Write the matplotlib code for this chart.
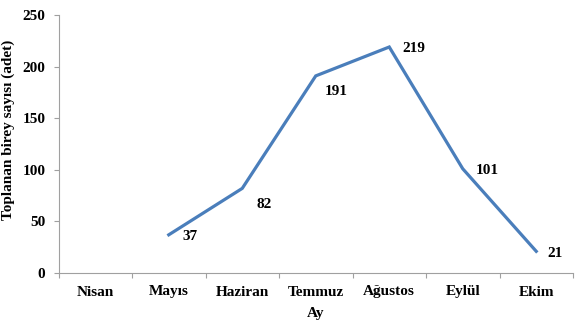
import numpy as np
import matplotlib
matplotlib.use("Agg")
import matplotlib.pyplot as plt

months = ["Nisan", "Mayıs", "Haziran", "Temmuz", "Ağustos", "Eylül", "Ekim"]
counts = [np.nan, 37, 82, 191, 219, 101, 21]
yticks = [0, 50, 100, 150, 200, 250]
# label offsets in pixels (dx, dy)
label_offsets = [(0, 0), (21, -2), (22, -16), (20, -16), (25, -2), (25, -2), (19, -2)]

plt.rcParams['font.family'] = ['Liberation Serif', 'DejaVu Serif']
FS = 11
W, H = 576, 332
fig = plt.figure(figsize=(W / 100, H / 100), dpi=100)
ax = fig.add_axes([58.5 / W, (H - 273) / H, (573 - 58.5) / W, (273 - 15) / H])

x = np.arange(len(months))
ax.plot(x, counts, color='#4A7EBB', lw=2.3, solid_joinstyle='miter')

for xi, v, (dx, dy) in zip(x, counts, label_offsets):
    if np.isnan(v):
        continue
    ax.annotate(f"{v:g}", (xi, v), xytext=(dx, dy), textcoords='offset pixels',
                ha='center', va='center', fontsize=FS, fontweight='bold', color='black')

ax.set_xlim(-0.5, len(months) - 0.5)
ax.set_ylim(0, 250)
ax.set_yticks(yticks)
ax.set_yticklabels([str(t) for t in yticks], fontsize=FS, fontweight='bold')
ax.set_xticks(x)
ax.set_xticklabels(months, fontsize=FS, fontweight='bold')
ax.set_xticks(np.arange(len(months) + 1) - 0.5, minor=True)
ax.tick_params(axis='x', which='major', length=0, pad=9)
ax.tick_params(axis='x', which='minor', length=3.5, color='#A0A0A0', width=0.8)
ax.tick_params(axis='y', length=3.5, color='#A0A0A0', width=0.8, pad=6)

for s in ['top', 'right']:
    ax.spines[s].set_visible(False)
for s in ['left', 'bottom']:
    ax.spines[s].set_color('#A0A0A0')
    ax.spines[s].set_linewidth(0.8)

fig.text(315.5 / W, (H - 313) / H, "Ay", ha='center', va='center', fontsize=FS, fontweight='bold')
fig.text(8 / W, (H - 130) / H, "Toplanan birey sayısı (adet)", rotation=90,
         ha='center', va='center', fontsize=FS, fontweight='bold')

fig.savefig("out.png", dpi=100)
